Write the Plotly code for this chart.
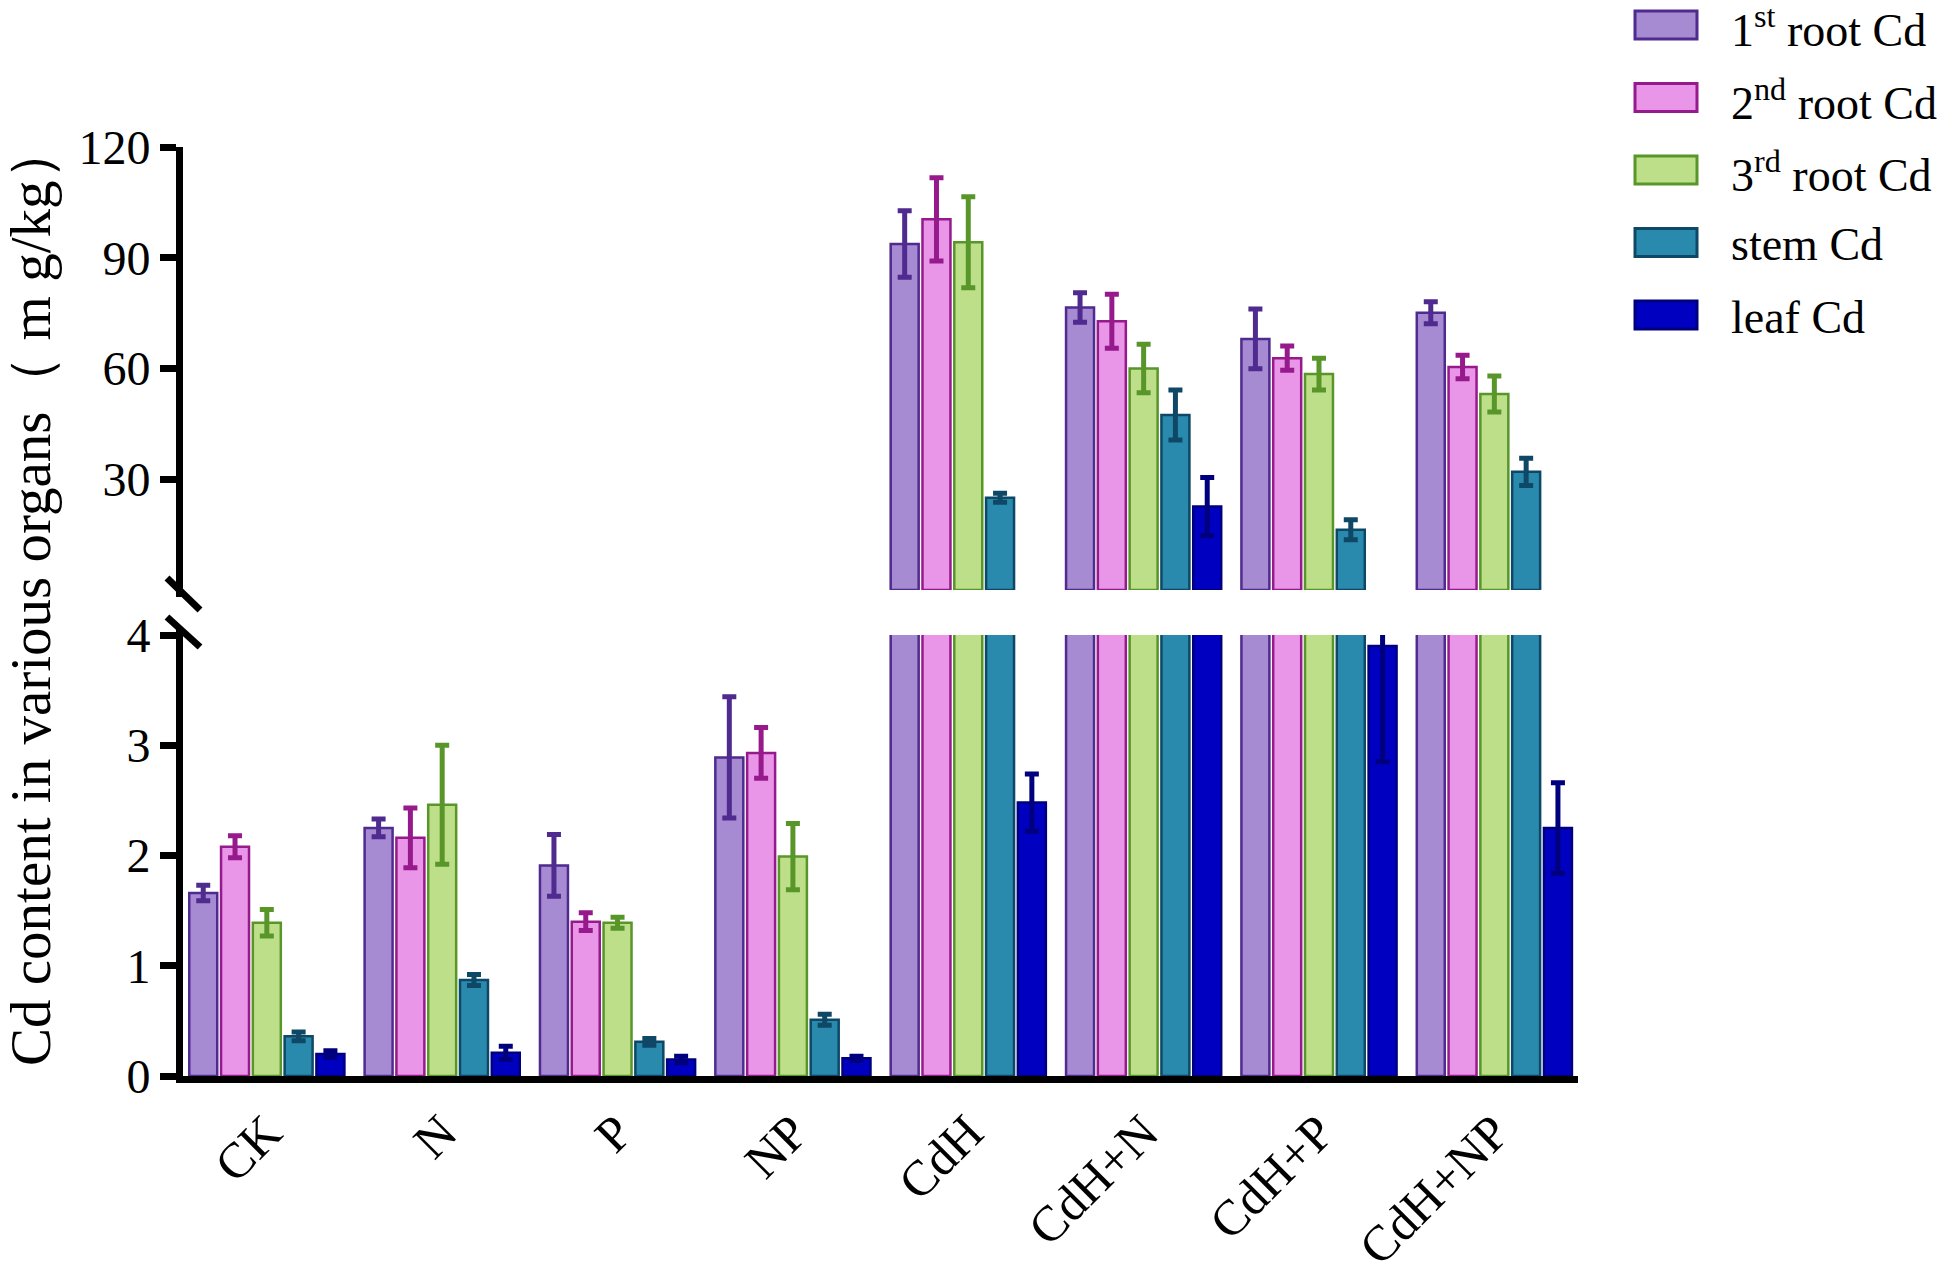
import plotly.graph_objects as go

# treatments on the x axis
groups = ["CK", "N", "P", "NP", "CdH", "CdH+N", "CdH+P", "CdH+NP"]

# Cd content (mg/kg) and error bars
root1 = [1.66, 2.25, 1.91, 2.89, 93.7, 76.5, 68.0, 75.1]
root1_err = [0.07, 0.08, 0.28, 0.55, 9.0, 4.0, 8.1, 3.0]
root2 = [2.08, 2.16, 1.40, 2.93, 100.4, 72.8, 62.8, 60.4]
root2_err = [0.10, 0.27, 0.08, 0.23, 11.3, 7.3, 3.3, 3.2]
root3 = [1.39, 2.46, 1.39, 1.99, 94.2, 60.0, 58.5, 53.1]
root3_err = [0.12, 0.54, 0.05, 0.30, 12.3, 6.6, 4.3, 4.9]
stem = [0.36, 0.87, 0.31, 0.51, 25.0, 47.4, 16.3, 32.0]
stem_err = [0.04, 0.05, 0.03, 0.05, 1.2, 6.8, 2.7, 3.7]
leaf = [0.20, 0.21, 0.15, 0.16, 2.48, 22.6, 3.90, 2.25]
leaf_err = [0.03, 0.06, 0.03, 0.02, 0.26, 7.9, 1.05, 0.41]

series_names = ["1<sup>st</sup> root Cd", "2<sup>nd</sup> root Cd", "3<sup>rd</sup> root Cd",
                "stem Cd", "leaf Cd"]
lower_ticks = [0, 1, 2, 3, 4]
upper_ticks = [30, 60, 90, 120]
BREAK = 4

fills = ["#A68BD3", "#E996E8", "#BEDF89", "#2A8AAE", "#0000C0"]
edges = ["#4F2A8F", "#961A8C", "#58962A", "#0E4866", "#00007E"]

FONT = "Liberation Serif, Times New Roman, serif"
W, H = 1960, 1273
L, R, T, B = 183, 1578, 147, 1076  # plot area in pixels


def px(x):
    return (x - L) / (R - L)


def py(y):
    return (B - y) / (B - T)


data = [(root1, root1_err), (root2, root2_err), (root3, root3_err),
        (stem, stem_err), (leaf, leaf_err)]

fig = go.Figure()
for i, (vals, errs) in enumerate(data):
    common = dict(marker=dict(color=fills[i], line=dict(color=edges[i], width=2.5)),
                  showlegend=False, name=series_names[i])
    # lower segment 0-4
    fig.add_trace(go.Bar(x=groups, y=vals, xaxis="x", yaxis="y",
                         error_y=dict(type="data", array=errs, color=edges[i],
                                      thickness=5, width=7),
                         **common))
    # upper segment, only bars that pass the break
    up = [v if v > BREAK else None for v in vals]
    up_err = [e if v > BREAK else None for v, e in zip(vals, errs)]
    fig.add_trace(go.Bar(x=groups, y=up, xaxis="x2", yaxis="y2",
                         error_y=dict(type="data", array=up_err, color=edges[i],
                                      thickness=5, width=7),
                         **common))

axis_style = dict(showline=True, linecolor="black", linewidth=7, ticks="outside",
                  ticklen=16, tickwidth=7, tickcolor="black", showgrid=False,
                  zeroline=False, automargin=False,
                  tickfont=dict(family=FONT, size=48, color="black"))

shapes = []
# axis break marks
for (x0, y0, x1, y1) in [(167, 578, 200, 610), (167, 617, 200, 647)]:
    shapes.append(dict(type="line", xref="paper", yref="paper",
                       x0=px(x0), y0=py(y0), x1=px(x1), y1=py(y1),
                       line=dict(color="black", width=7)))
# little axis stubs into the break marks
for (y0, y1) in [(588, 597), (628, 637)]:
    shapes.append(dict(type="line", xref="paper", yref="paper",
                       x0=px(179.5), y0=py(y0), x1=px(179.5), y1=py(y1),
                       line=dict(color="black", width=7)))

annotations = []
# hand-made legend with big swatches
for i, name in enumerate(series_names):
    cy = 25 + 72.5 * i
    shapes.append(dict(type="rect", xref="paper", yref="paper",
                       x0=px(1635), x1=px(1697), y0=py(cy - 14), y1=py(cy + 14),
                       fillcolor=fills[i], line=dict(color=edges[i], width=3)))
    annotations.append(dict(text=name, xref="paper", yref="paper", x=px(1730), y=py(cy + 2),
                            xanchor="left", yanchor="middle", showarrow=False, borderpad=0,
                            font=dict(family=FONT, size=46, color="black")))

annotations.append(dict(text="Cd content in various organs\uff08 m g/kg\uff09",
                        xref="paper", yref="paper", x=px(30), y=py(595),
                        textangle=-90, showarrow=False, xanchor="center", yanchor="middle",
                        borderpad=0, font=dict(family=FONT, size=57, color="black")))

fig.update_layout(
    width=W, height=H,
    margin=dict(l=L, r=W - R, t=T, b=H - B, pad=0, autoexpand=False),
    paper_bgcolor="white", plot_bgcolor="white",
    barmode="group", bargap=0.0935, bargroupgap=0.12,
    xaxis=dict(domain=[0, 1], range=[-0.478, 7.477], anchor="y", showline=True,
               linecolor="black", linewidth=7, ticks="", tickangle=-45, automargin=False,
               tickfont=dict(family=FONT, size=50, color="black"), showgrid=False),
    xaxis2=dict(domain=[0, 1], matches="x", anchor="y2", visible=False),
    yaxis=dict(domain=[0, py(635)], range=[0, 4], tickvals=lower_ticks, **axis_style),
    yaxis2=dict(domain=[py(590), 1], range=[0, 120], tickvals=upper_ticks, **axis_style),
    shapes=shapes,
    annotations=annotations,
)

# the page's default body margin would push the figure 8px off its place
fig.write_html("out.html", config={"displayModeBar": False},
               post_script="document.body.style.margin = '0px';")
